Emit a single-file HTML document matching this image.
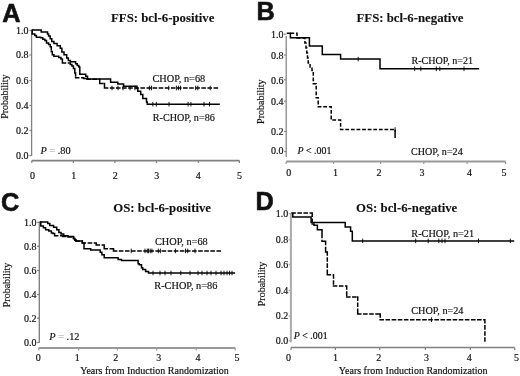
<!DOCTYPE html>
<html><head><meta charset="utf-8"><style>
html,body{margin:0;padding:0;background:#fff;}
svg{display:block;filter:blur(0.3px);}
</style></head><body>
<svg width="520" height="376" viewBox="0 0 520 376">
<rect width="520" height="376" fill="#fff"/>
<text x="2.2" y="22" font-size="25.3" text-anchor="start" font-weight="bold" font-family='"Liberation Sans", sans-serif' fill="#111" stroke="#111" stroke-width="0.6" >A</text>
<text x="111" y="22.2" font-size="12.8" text-anchor="start" font-weight="bold" font-family='"Liberation Serif", serif' fill="#111" stroke="#111" stroke-width="0.1" >FFS: bcl-6-positive</text>
<line x1="31.6" y1="30.5" x2="31.6" y2="155.8" stroke="#808080" stroke-width="1.3"/>
<line x1="29.400000000000002" y1="30.5" x2="31.6" y2="30.5" stroke="#808080" stroke-width="1.2"/>
<text x="28.5" y="33.8" font-size="10" text-anchor="end" font-weight="normal" font-family='"Liberation Serif", serif' fill="#111" stroke="#111" stroke-width="0.18" >1.0</text>
<line x1="29.400000000000002" y1="55" x2="31.6" y2="55" stroke="#808080" stroke-width="1.2"/>
<text x="28.5" y="58.3" font-size="10" text-anchor="end" font-weight="normal" font-family='"Liberation Serif", serif' fill="#111" stroke="#111" stroke-width="0.18" >0.8</text>
<line x1="29.400000000000002" y1="80.5" x2="31.6" y2="80.5" stroke="#808080" stroke-width="1.2"/>
<text x="28.5" y="83.8" font-size="10" text-anchor="end" font-weight="normal" font-family='"Liberation Serif", serif' fill="#111" stroke="#111" stroke-width="0.18" >0.6</text>
<line x1="29.400000000000002" y1="105.5" x2="31.6" y2="105.5" stroke="#808080" stroke-width="1.2"/>
<text x="28.5" y="108.8" font-size="10" text-anchor="end" font-weight="normal" font-family='"Liberation Serif", serif' fill="#111" stroke="#111" stroke-width="0.18" >0.4</text>
<line x1="29.400000000000002" y1="130.5" x2="31.6" y2="130.5" stroke="#808080" stroke-width="1.2"/>
<text x="28.5" y="133.8" font-size="10" text-anchor="end" font-weight="normal" font-family='"Liberation Serif", serif' fill="#111" stroke="#111" stroke-width="0.18" >0.2</text>
<line x1="29.400000000000002" y1="155.5" x2="31.6" y2="155.5" stroke="#808080" stroke-width="1.2"/>
<text x="28.5" y="158.8" font-size="10" text-anchor="end" font-weight="normal" font-family='"Liberation Serif", serif' fill="#111" stroke="#111" stroke-width="0.18" >0.0</text>
<line x1="31.8" y1="160.6" x2="239.4" y2="160.6" stroke="#808080" stroke-width="1.6"/>
<line x1="31.8" y1="160.6" x2="31.8" y2="163.1" stroke="#808080" stroke-width="1.2"/>
<text x="32.4" y="179.3" font-size="10" text-anchor="middle" font-weight="normal" font-family='"Liberation Serif", serif' fill="#111" stroke="#111" stroke-width="0.18" >0</text>
<line x1="73.3" y1="160.6" x2="73.3" y2="163.1" stroke="#808080" stroke-width="1.2"/>
<text x="73.7" y="179.3" font-size="10" text-anchor="middle" font-weight="normal" font-family='"Liberation Serif", serif' fill="#111" stroke="#111" stroke-width="0.18" >1</text>
<line x1="114.8" y1="160.6" x2="114.8" y2="163.1" stroke="#808080" stroke-width="1.2"/>
<text x="115.2" y="179.3" font-size="10" text-anchor="middle" font-weight="normal" font-family='"Liberation Serif", serif' fill="#111" stroke="#111" stroke-width="0.18" >2</text>
<line x1="156.5" y1="160.6" x2="156.5" y2="163.1" stroke="#808080" stroke-width="1.2"/>
<text x="156.7" y="179.3" font-size="10" text-anchor="middle" font-weight="normal" font-family='"Liberation Serif", serif' fill="#111" stroke="#111" stroke-width="0.18" >3</text>
<line x1="198.3" y1="160.6" x2="198.3" y2="163.1" stroke="#808080" stroke-width="1.2"/>
<text x="198.3" y="179.3" font-size="10" text-anchor="middle" font-weight="normal" font-family='"Liberation Serif", serif' fill="#111" stroke="#111" stroke-width="0.18" >4</text>
<line x1="239.4" y1="160.6" x2="239.4" y2="163.1" stroke="#808080" stroke-width="1.2"/>
<text x="239.4" y="179.3" font-size="10" text-anchor="middle" font-weight="normal" font-family='"Liberation Serif", serif' fill="#111" stroke="#111" stroke-width="0.18" >5</text>
<text x="0" y="0" font-size="10" text-anchor="middle" font-weight="normal" font-family='"Liberation Serif", serif' fill="#111" stroke="#111" stroke-width="0.18" transform="translate(7.8,96.6) rotate(-90)">Probability</text>
<text x="40.5" y="154.3" font-size="10.3" text-anchor="start" font-weight="normal" font-family='"Liberation Serif", serif' fill="#111" stroke="#111" stroke-width="0.18" ><tspan font-style="italic">P</tspan> <tspan fill="#999" stroke="#999">=</tspan> .80</text>
<text x="152.5" y="81.8" font-size="10.3" text-anchor="start" font-weight="normal" font-family='"Liberation Serif", serif' fill="#111" stroke="#111" stroke-width="0.18" >CHOP, n=68</text>
<text x="152.8" y="120.5" font-size="10.15" text-anchor="start" font-weight="normal" font-family='"Liberation Serif", serif' fill="#111" stroke="#111" stroke-width="0.18" >R-CHOP, n=86</text>
<path d="M32.1 29.9 H41.2 V31.9 H47.5 V34 H48.6 V36.1 H50.2 V38.8 H51.8 V41.4 H53.9 V43.6 H57.1 V45.7 H60.3 V48.3 H61.9 V52.1 H64 V54.7 H66.7 V57.9 H68.3 V60.6 H70.3 V61.7 H75.6 V63.8 H77.2 V65.5 H78.8 V67 H79.8 V74.2 H85.7 V76.2 H87.5 V79.1 H110.6 V82.2 H117.8 V84 H123.6 V86.2 H137 V88.6 H137.8 V91.3 H140.7 V94.5 H142.8 V98.4 H146.5 V101.9 H147.3 V104.2 H219.8" fill="none" stroke="#000" stroke-width="1.5"/>
<line x1="152.8" y1="101.9" x2="152.8" y2="106.5" stroke="#000" stroke-width="0.9"/>
<line x1="156.3" y1="101.9" x2="156.3" y2="106.5" stroke="#000" stroke-width="0.9"/>
<line x1="169" y1="101.9" x2="169" y2="106.5" stroke="#000" stroke-width="0.9"/>
<line x1="188.1" y1="101.9" x2="188.1" y2="106.5" stroke="#000" stroke-width="0.9"/>
<line x1="190.9" y1="101.9" x2="190.9" y2="106.5" stroke="#000" stroke-width="0.9"/>
<line x1="204" y1="101.9" x2="204" y2="106.5" stroke="#000" stroke-width="0.9"/>
<line x1="209.5" y1="101.9" x2="209.5" y2="106.5" stroke="#000" stroke-width="0.9"/>
<path d="M32.2 30.0V34.0M32.2 34.0H34.8M34.8 34.0V35.6M34.8 35.6H36.4M36.4 35.6V37.2M36.4 37.2H40.6M40.6 37.2V37.7M40.6 37.7H42.8M42.8 37.7V39.3M42.8 39.3H44.9M44.9 39.3V40.4M44.9 40.4H46.5M46.5 40.4V43.0M46.5 43.0H48.6M48.6 43.0V44.6M48.6 44.6H50.2M50.2 44.6V46.7M50.2 46.7H51.3M51.3 46.7V51.5M51.3 51.5H52.3M52.3 51.5V54.7M52.3 54.7H53.9M53.9 54.7V56.3M53.9 56.3H58.7M58.7 56.3V57.5M58.7 57.5H60.9M60.9 57.5V59.0M60.9 59.0H62.4M62.4 59.0V63.0M62.4 63.0H70.3M70.3 63.0V64.5M70.3 64.5H71.9M71.9 64.5V66.0M71.9 66.0H73.4M73.4 66.0V68.6M73.4 68.6H74.8M74.8 68.6V72.9M74.8 72.9H75.6M75.6 72.9V77.7M75.6 77.7H83.6M83.6 77.7V78.5M83.6 78.5H87.0M87.0 78.5V79.2M87.0 79.2H99.7M99.7 79.2V83.5M99.7 83.5H104.5M104.5 83.5V88.0M104.5 88.0H219.5" fill="none" stroke="#000" stroke-width="1.5" stroke-linecap="square" stroke-dasharray="3.1 3.0"/>
<line x1="112" y1="85.7" x2="112" y2="90.3" stroke="#000" stroke-width="0.9"/>
<line x1="118" y1="85.7" x2="118" y2="90.3" stroke="#000" stroke-width="0.9"/>
<line x1="123" y1="85.7" x2="123" y2="90.3" stroke="#000" stroke-width="0.9"/>
<line x1="130" y1="85.7" x2="130" y2="90.3" stroke="#000" stroke-width="0.9"/>
<line x1="135" y1="85.7" x2="135" y2="90.3" stroke="#000" stroke-width="0.9"/>
<line x1="149.4" y1="85.7" x2="149.4" y2="90.3" stroke="#000" stroke-width="0.9"/>
<line x1="151.5" y1="85.7" x2="151.5" y2="90.3" stroke="#000" stroke-width="0.9"/>
<line x1="168.7" y1="85.7" x2="168.7" y2="90.3" stroke="#000" stroke-width="0.9"/>
<line x1="176.4" y1="85.7" x2="176.4" y2="90.3" stroke="#000" stroke-width="0.9"/>
<line x1="178.4" y1="85.7" x2="178.4" y2="90.3" stroke="#000" stroke-width="0.9"/>
<line x1="180.5" y1="85.7" x2="180.5" y2="90.3" stroke="#000" stroke-width="0.9"/>
<line x1="195.7" y1="85.7" x2="195.7" y2="90.3" stroke="#000" stroke-width="0.9"/>
<line x1="197.8" y1="85.7" x2="197.8" y2="90.3" stroke="#000" stroke-width="0.9"/>
<line x1="210.2" y1="85.7" x2="210.2" y2="90.3" stroke="#000" stroke-width="0.9"/>
<text x="256.5" y="20.3" font-size="25.3" text-anchor="start" font-weight="bold" font-family='"Liberation Sans", sans-serif' fill="#111" stroke="#111" stroke-width="0.6" >B</text>
<text x="356.5" y="22.3" font-size="12.8" text-anchor="start" font-weight="bold" font-family='"Liberation Serif", serif' fill="#111" stroke="#111" stroke-width="0.1" >FFS: bcl-6-negative</text>
<line x1="286.2" y1="36" x2="286.2" y2="157" stroke="#888" stroke-width="1.3"/>
<line x1="284.0" y1="34.2" x2="286.2" y2="34.2" stroke="#888" stroke-width="1.2"/>
<text x="283.5" y="38.15" font-size="10" text-anchor="end" font-weight="normal" font-family='"Liberation Serif", serif' fill="#111" stroke="#111" stroke-width="0.18" >1.0</text>
<line x1="284.0" y1="55" x2="286.2" y2="55" stroke="#888" stroke-width="1.2"/>
<text x="283.5" y="58.599999999999994" font-size="10" text-anchor="end" font-weight="normal" font-family='"Liberation Serif", serif' fill="#111" stroke="#111" stroke-width="0.18" >0.8</text>
<line x1="284.0" y1="79.8" x2="286.2" y2="79.8" stroke="#888" stroke-width="1.2"/>
<text x="283.5" y="83.89999999999999" font-size="10" text-anchor="end" font-weight="normal" font-family='"Liberation Serif", serif' fill="#111" stroke="#111" stroke-width="0.18" >0.6</text>
<line x1="284.0" y1="101.2" x2="286.2" y2="101.2" stroke="#888" stroke-width="1.2"/>
<text x="283.5" y="105.3" font-size="10" text-anchor="end" font-weight="normal" font-family='"Liberation Serif", serif' fill="#111" stroke="#111" stroke-width="0.18" >0.4</text>
<line x1="284.0" y1="131.5" x2="286.2" y2="131.5" stroke="#888" stroke-width="1.2"/>
<text x="283.5" y="134.60000000000002" font-size="10" text-anchor="end" font-weight="normal" font-family='"Liberation Serif", serif' fill="#111" stroke="#111" stroke-width="0.18" >0.2</text>
<line x1="284.0" y1="151.5" x2="286.2" y2="151.5" stroke="#888" stroke-width="1.2"/>
<text x="283.5" y="153.8" font-size="10" text-anchor="end" font-weight="normal" font-family='"Liberation Serif", serif' fill="#111" stroke="#111" stroke-width="0.18" >0.0</text>
<line x1="286.2" y1="161.5" x2="505.6" y2="161.5" stroke="#999" stroke-width="1.9"/>
<line x1="286.2" y1="161.5" x2="286.2" y2="164.0" stroke="#999" stroke-width="1.2"/>
<text x="288.8" y="176" font-size="10" text-anchor="middle" font-weight="normal" font-family='"Liberation Serif", serif' fill="#111" stroke="#111" stroke-width="0.18" >0</text>
<line x1="333.5" y1="161.5" x2="333.5" y2="164.0" stroke="#999" stroke-width="1.2"/>
<text x="335.4" y="176" font-size="10" text-anchor="middle" font-weight="normal" font-family='"Liberation Serif", serif' fill="#111" stroke="#111" stroke-width="0.18" >1</text>
<line x1="380.6" y1="161.5" x2="380.6" y2="164.0" stroke="#999" stroke-width="1.2"/>
<text x="379" y="176" font-size="10" text-anchor="middle" font-weight="normal" font-family='"Liberation Serif", serif' fill="#111" stroke="#111" stroke-width="0.18" >2</text>
<line x1="423.8" y1="161.5" x2="423.8" y2="164.0" stroke="#999" stroke-width="1.2"/>
<text x="422" y="176" font-size="10" text-anchor="middle" font-weight="normal" font-family='"Liberation Serif", serif' fill="#111" stroke="#111" stroke-width="0.18" >3</text>
<line x1="467.1" y1="161.5" x2="467.1" y2="164.0" stroke="#999" stroke-width="1.2"/>
<text x="469.6" y="176" font-size="10" text-anchor="middle" font-weight="normal" font-family='"Liberation Serif", serif' fill="#111" stroke="#111" stroke-width="0.18" >4</text>
<line x1="505.6" y1="161.5" x2="505.6" y2="164.0" stroke="#999" stroke-width="1.2"/>
<text x="503.9" y="176" font-size="10" text-anchor="middle" font-weight="normal" font-family='"Liberation Serif", serif' fill="#111" stroke="#111" stroke-width="0.18" >5</text>
<text x="0" y="0" font-size="10" text-anchor="middle" font-weight="normal" font-family='"Liberation Serif", serif' fill="#111" stroke="#111" stroke-width="0.18" transform="translate(264.4,101.7) rotate(-90)">Probability</text>
<text x="297.5" y="153.89999999999998" font-size="9.9" text-anchor="start" font-weight="normal" font-family='"Liberation Serif", serif' fill="#111" stroke="#111" stroke-width="0.18" ><tspan font-style="italic">P</tspan> &lt; .001</text>
<text x="411.5" y="64.2" font-size="10.05" text-anchor="start" font-weight="normal" font-family='"Liberation Serif", serif' fill="#111" stroke="#111" stroke-width="0.18" >R-CHOP, n=21</text>
<text x="411" y="154.7" font-size="10.1" text-anchor="start" font-weight="normal" font-family='"Liberation Serif", serif' fill="#111" stroke="#111" stroke-width="0.18" >CHOP, n=24</text>
<path d="M286.7 33.2 H290.4 V37.8 H309.4 V46 H322.3 V54.4 H340.6 V59.1 H380 V68.8 H479.2" fill="none" stroke="#000" stroke-width="1.5"/>
<line x1="358.2" y1="56.800000000000004" x2="358.2" y2="61.4" stroke="#000" stroke-width="0.9"/>
<line x1="414.7" y1="66.5" x2="414.7" y2="71.1" stroke="#000" stroke-width="0.9"/>
<line x1="420.8" y1="66.5" x2="420.8" y2="71.1" stroke="#000" stroke-width="0.9"/>
<line x1="436.3" y1="66.5" x2="436.3" y2="71.1" stroke="#000" stroke-width="0.9"/>
<line x1="439.8" y1="66.5" x2="439.8" y2="71.1" stroke="#000" stroke-width="0.9"/>
<line x1="464" y1="66.5" x2="464" y2="71.1" stroke="#000" stroke-width="0.9"/>
<path d="M290.4 33.2 H297 V38 H304.9 V43 H306 V48 H306.8 V53 H307.5 V58 H308.2 V63 H310.1 V67 H312 V70.5 H313.3 V74.8 H313.3 V83.8 H316.2 V97.7 H318.2 V106.7 H331.2 V120.1 H340.6 V129.5 H395.1" fill="none" stroke="#000" stroke-width="1.5" stroke-dasharray="3.8 1.8"/>
<path d="M395.1 129.5V138.1" fill="none" stroke="#000" stroke-width="1.5"/>
<line x1="395.1" y1="127.2" x2="395.1" y2="131.8" stroke="#000" stroke-width="0.9"/>
<text x="1.0" y="211" font-size="25.3" text-anchor="start" font-weight="bold" font-family='"Liberation Sans", sans-serif' fill="#111" stroke="#111" stroke-width="0.6" >C</text>
<text x="113.3" y="211.9" font-size="12.8" text-anchor="start" font-weight="bold" font-family='"Liberation Serif", serif' fill="#111" stroke="#111" stroke-width="0.1" >OS: bcl-6-positive</text>
<line x1="39.3" y1="222.3" x2="39.3" y2="342.8" stroke="#7a7a7a" stroke-width="1.3"/>
<line x1="37.099999999999994" y1="222.3" x2="39.3" y2="222.3" stroke="#7a7a7a" stroke-width="1.2"/>
<text x="36.5" y="226.20000000000002" font-size="10" text-anchor="end" font-weight="normal" font-family='"Liberation Serif", serif' fill="#111" stroke="#111" stroke-width="0.18" >1.0</text>
<line x1="37.099999999999994" y1="246.3" x2="39.3" y2="246.3" stroke="#7a7a7a" stroke-width="1.2"/>
<text x="36.5" y="250.20000000000002" font-size="10" text-anchor="end" font-weight="normal" font-family='"Liberation Serif", serif' fill="#111" stroke="#111" stroke-width="0.18" >0.8</text>
<line x1="37.099999999999994" y1="270.5" x2="39.3" y2="270.5" stroke="#7a7a7a" stroke-width="1.2"/>
<text x="36.5" y="274.40000000000003" font-size="10" text-anchor="end" font-weight="normal" font-family='"Liberation Serif", serif' fill="#111" stroke="#111" stroke-width="0.18" >0.6</text>
<line x1="37.099999999999994" y1="294.5" x2="39.3" y2="294.5" stroke="#7a7a7a" stroke-width="1.2"/>
<text x="36.5" y="298.40000000000003" font-size="10" text-anchor="end" font-weight="normal" font-family='"Liberation Serif", serif' fill="#111" stroke="#111" stroke-width="0.18" >0.4</text>
<line x1="37.099999999999994" y1="318.2" x2="39.3" y2="318.2" stroke="#7a7a7a" stroke-width="1.2"/>
<text x="36.5" y="322.1" font-size="10" text-anchor="end" font-weight="normal" font-family='"Liberation Serif", serif' fill="#111" stroke="#111" stroke-width="0.18" >0.2</text>
<line x1="37.099999999999994" y1="342.5" x2="39.3" y2="342.5" stroke="#7a7a7a" stroke-width="1.2"/>
<text x="36.5" y="346.40000000000003" font-size="10" text-anchor="end" font-weight="normal" font-family='"Liberation Serif", serif' fill="#111" stroke="#111" stroke-width="0.18" >0.0</text>
<line x1="38.7" y1="348" x2="235.2" y2="348" stroke="#999" stroke-width="1.9"/>
<line x1="38.7" y1="348" x2="38.7" y2="350.5" stroke="#999" stroke-width="1.2"/>
<text x="38.3" y="361" font-size="10" text-anchor="middle" font-weight="normal" font-family='"Liberation Serif", serif' fill="#111" stroke="#111" stroke-width="0.18" >0</text>
<line x1="78.7" y1="348" x2="78.7" y2="350.5" stroke="#999" stroke-width="1.2"/>
<text x="77.3" y="361" font-size="10" text-anchor="middle" font-weight="normal" font-family='"Liberation Serif", serif' fill="#111" stroke="#111" stroke-width="0.18" >1</text>
<line x1="117.3" y1="348" x2="117.3" y2="350.5" stroke="#999" stroke-width="1.2"/>
<text x="115.8" y="361" font-size="10" text-anchor="middle" font-weight="normal" font-family='"Liberation Serif", serif' fill="#111" stroke="#111" stroke-width="0.18" >2</text>
<line x1="156.7" y1="348" x2="156.7" y2="350.5" stroke="#999" stroke-width="1.2"/>
<text x="158.7" y="361" font-size="10" text-anchor="middle" font-weight="normal" font-family='"Liberation Serif", serif' fill="#111" stroke="#111" stroke-width="0.18" >3</text>
<line x1="196.2" y1="348" x2="196.2" y2="350.5" stroke="#999" stroke-width="1.2"/>
<text x="198" y="361" font-size="10" text-anchor="middle" font-weight="normal" font-family='"Liberation Serif", serif' fill="#111" stroke="#111" stroke-width="0.18" >4</text>
<line x1="235.2" y1="348" x2="235.2" y2="350.5" stroke="#999" stroke-width="1.2"/>
<text x="237" y="361" font-size="10" text-anchor="middle" font-weight="normal" font-family='"Liberation Serif", serif' fill="#111" stroke="#111" stroke-width="0.18" >5</text>
<text x="0" y="0" font-size="10" text-anchor="middle" font-weight="normal" font-family='"Liberation Serif", serif' fill="#111" stroke="#111" stroke-width="0.18" transform="translate(9.8,285) rotate(-90)">Probability</text>
<text x="80.2" y="373.6" font-size="10" text-anchor="start" font-weight="normal" font-family='"Liberation Serif", serif' fill="#111" stroke="#111" stroke-width="0.18" >Years from Induction Randomization</text>
<text x="49.3" y="339.7" font-size="10.3" text-anchor="start" font-weight="normal" font-family='"Liberation Serif", serif' fill="#111" stroke="#111" stroke-width="0.18" ><tspan font-style="italic">P</tspan> <tspan fill="#999" stroke="#999">=</tspan> .12</text>
<text x="155" y="245.2" font-size="10.3" text-anchor="start" font-weight="normal" font-family='"Liberation Serif", serif' fill="#111" stroke="#111" stroke-width="0.18" >CHOP, n=68</text>
<text x="154.3" y="288.5" font-size="10.3" text-anchor="start" font-weight="normal" font-family='"Liberation Serif", serif' fill="#111" stroke="#111" stroke-width="0.18" >R-CHOP, n=86</text>
<path d="M40.3 221.9 H47.7 V223.4 H49.8 V225.6 H53.6 V227.2 H56.7 V229.8 H58.9 V232.5 H61 V234.1 H63.7 V235.7 H68 V236.5 H73.5 V238.5 H74.7 V240 H76 V241 H82.3 V243 H84 V248.7 H90.7 V249.9 H100.2 V252.2 H101.9 V254.8 H104.2 V257.8 H118.1 V259.4 H121.5 V260.5 H138.1 V263.7 H139.2 V264.8 H141.5 V267.7 H142.7 V269.4 H145.6 V271.5 H148.5 V273 H235.1" fill="none" stroke="#000" stroke-width="1.5"/>
<line x1="153" y1="270.7" x2="153" y2="275.3" stroke="#000" stroke-width="0.9"/>
<line x1="160" y1="270.7" x2="160" y2="275.3" stroke="#000" stroke-width="0.9"/>
<line x1="165" y1="270.7" x2="165" y2="275.3" stroke="#000" stroke-width="0.9"/>
<line x1="171" y1="270.7" x2="171" y2="275.3" stroke="#000" stroke-width="0.9"/>
<line x1="180.8" y1="270.7" x2="180.8" y2="275.3" stroke="#000" stroke-width="0.9"/>
<line x1="190" y1="270.7" x2="190" y2="275.3" stroke="#000" stroke-width="0.9"/>
<line x1="198" y1="270.7" x2="198" y2="275.3" stroke="#000" stroke-width="0.9"/>
<line x1="202" y1="270.7" x2="202" y2="275.3" stroke="#000" stroke-width="0.9"/>
<line x1="207" y1="270.7" x2="207" y2="275.3" stroke="#000" stroke-width="0.9"/>
<line x1="211" y1="270.7" x2="211" y2="275.3" stroke="#000" stroke-width="0.9"/>
<line x1="216" y1="270.7" x2="216" y2="275.3" stroke="#000" stroke-width="0.9"/>
<line x1="221" y1="270.7" x2="221" y2="275.3" stroke="#000" stroke-width="0.9"/>
<line x1="224" y1="270.7" x2="224" y2="275.3" stroke="#000" stroke-width="0.9"/>
<line x1="227" y1="270.7" x2="227" y2="275.3" stroke="#000" stroke-width="0.9"/>
<line x1="229.6" y1="270.7" x2="229.6" y2="275.3" stroke="#000" stroke-width="0.9"/>
<line x1="232" y1="270.7" x2="232" y2="275.3" stroke="#000" stroke-width="0.9"/>
<path d="M40.3 222.0H40.8M40.8 222.0V226.1M40.8 226.1H43.4M43.4 226.1V227.7M43.4 227.7H45.6M45.6 227.7V229.8M45.6 229.8H48.8M48.8 229.8V230.9M48.8 230.9H51.4M51.4 230.9V233.0M51.4 233.0H53.0M53.0 233.0V233.6M53.0 233.6H54.6M54.6 233.6V235.7M54.6 235.7H62.6M62.6 235.7V236.5M62.6 236.5H68.0M68.0 236.5V236.9M68.0 236.9H73.5M73.5 236.9V238.5M73.5 238.5H74.7M74.7 238.5V240.0M74.7 240.0H76.0M76.0 240.0V241.0M76.0 241.0H82.3M82.3 241.0V243.0M82.3 243.0H96.2M96.2 243.0V245.1M96.2 245.1H104.2M104.2 245.1V248.8M104.2 248.8H113.5M113.5 248.8V250.9M113.5 250.9H221.8" fill="none" stroke="#000" stroke-width="1.5" stroke-linecap="square" stroke-dasharray="3.1 3.0"/>
<line x1="131.2" y1="248.6" x2="131.2" y2="253.20000000000002" stroke="#000" stroke-width="0.9"/>
<line x1="145" y1="248.6" x2="145" y2="253.20000000000002" stroke="#000" stroke-width="0.9"/>
<line x1="147.3" y1="248.6" x2="147.3" y2="253.20000000000002" stroke="#000" stroke-width="0.9"/>
<line x1="148.5" y1="248.6" x2="148.5" y2="253.20000000000002" stroke="#000" stroke-width="0.9"/>
<line x1="150.2" y1="248.6" x2="150.2" y2="253.20000000000002" stroke="#000" stroke-width="0.9"/>
<line x1="151.9" y1="248.6" x2="151.9" y2="253.20000000000002" stroke="#000" stroke-width="0.9"/>
<line x1="158.3" y1="248.6" x2="158.3" y2="253.20000000000002" stroke="#000" stroke-width="0.9"/>
<line x1="160.4" y1="248.6" x2="160.4" y2="253.20000000000002" stroke="#000" stroke-width="0.9"/>
<line x1="175.4" y1="248.6" x2="175.4" y2="253.20000000000002" stroke="#000" stroke-width="0.9"/>
<line x1="185.5" y1="248.6" x2="185.5" y2="253.20000000000002" stroke="#000" stroke-width="0.9"/>
<line x1="187.7" y1="248.6" x2="187.7" y2="253.20000000000002" stroke="#000" stroke-width="0.9"/>
<line x1="195" y1="248.6" x2="195" y2="253.20000000000002" stroke="#000" stroke-width="0.9"/>
<text x="255.5" y="210.3" font-size="25.3" text-anchor="start" font-weight="bold" font-family='"Liberation Sans", sans-serif' fill="#111" stroke="#111" stroke-width="0.6" >D</text>
<text x="356" y="211.8" font-size="12.8" text-anchor="start" font-weight="bold" font-family='"Liberation Serif", serif' fill="#111" stroke="#111" stroke-width="0.1" >OS: bcl-6-negative</text>
<line x1="290.9" y1="213.6" x2="290.9" y2="342.3" stroke="#aaa" stroke-width="2.0"/>
<line x1="288.7" y1="213.6" x2="290.9" y2="213.6" stroke="#aaa" stroke-width="1.2"/>
<text x="288.2" y="216.9" font-size="10" text-anchor="end" font-weight="normal" font-family='"Liberation Serif", serif' fill="#111" stroke="#111" stroke-width="0.18" >1.0</text>
<line x1="288.7" y1="239.9" x2="290.9" y2="239.9" stroke="#aaa" stroke-width="1.2"/>
<text x="288.2" y="243.20000000000002" font-size="10" text-anchor="end" font-weight="normal" font-family='"Liberation Serif", serif' fill="#111" stroke="#111" stroke-width="0.18" >0.8</text>
<line x1="288.7" y1="264.4" x2="290.9" y2="264.4" stroke="#aaa" stroke-width="1.2"/>
<text x="288.2" y="267.7" font-size="10" text-anchor="end" font-weight="normal" font-family='"Liberation Serif", serif' fill="#111" stroke="#111" stroke-width="0.18" >0.6</text>
<line x1="288.7" y1="290.5" x2="290.9" y2="290.5" stroke="#aaa" stroke-width="1.2"/>
<text x="288.2" y="293.8" font-size="10" text-anchor="end" font-weight="normal" font-family='"Liberation Serif", serif' fill="#111" stroke="#111" stroke-width="0.18" >0.4</text>
<line x1="288.7" y1="316.1" x2="290.9" y2="316.1" stroke="#aaa" stroke-width="1.2"/>
<text x="288.2" y="319.40000000000003" font-size="10" text-anchor="end" font-weight="normal" font-family='"Liberation Serif", serif' fill="#111" stroke="#111" stroke-width="0.18" >0.2</text>
<line x1="288.7" y1="340.7" x2="290.9" y2="340.7" stroke="#aaa" stroke-width="1.2"/>
<text x="288.2" y="344.0" font-size="10" text-anchor="end" font-weight="normal" font-family='"Liberation Serif", serif' fill="#111" stroke="#111" stroke-width="0.18" >0.0</text>
<line x1="291" y1="347.5" x2="514.7" y2="347.5" stroke="#808080" stroke-width="1.5"/>
<line x1="291" y1="347.5" x2="291" y2="350.0" stroke="#808080" stroke-width="1.2"/>
<text x="288.5" y="360.7" font-size="10" text-anchor="middle" font-weight="normal" font-family='"Liberation Serif", serif' fill="#111" stroke="#111" stroke-width="0.18" >0</text>
<line x1="335.4" y1="347.5" x2="335.4" y2="350.0" stroke="#808080" stroke-width="1.2"/>
<text x="335.4" y="360.7" font-size="10" text-anchor="middle" font-weight="normal" font-family='"Liberation Serif", serif' fill="#111" stroke="#111" stroke-width="0.18" >1</text>
<line x1="379.7" y1="347.5" x2="379.7" y2="350.0" stroke="#808080" stroke-width="1.2"/>
<text x="378.8" y="360.7" font-size="10" text-anchor="middle" font-weight="normal" font-family='"Liberation Serif", serif' fill="#111" stroke="#111" stroke-width="0.18" >2</text>
<line x1="425.4" y1="347.5" x2="425.4" y2="350.0" stroke="#808080" stroke-width="1.2"/>
<text x="426.5" y="360.7" font-size="10" text-anchor="middle" font-weight="normal" font-family='"Liberation Serif", serif' fill="#111" stroke="#111" stroke-width="0.18" >3</text>
<line x1="470.4" y1="347.5" x2="470.4" y2="350.0" stroke="#808080" stroke-width="1.2"/>
<text x="469.2" y="360.7" font-size="10" text-anchor="middle" font-weight="normal" font-family='"Liberation Serif", serif' fill="#111" stroke="#111" stroke-width="0.18" >4</text>
<line x1="514.7" y1="347.5" x2="514.7" y2="350.0" stroke="#808080" stroke-width="1.2"/>
<text x="516.5" y="360.7" font-size="10" text-anchor="middle" font-weight="normal" font-family='"Liberation Serif", serif' fill="#111" stroke="#111" stroke-width="0.18" >5</text>
<text x="0" y="0" font-size="10" text-anchor="middle" font-weight="normal" font-family='"Liberation Serif", serif' fill="#111" stroke="#111" stroke-width="0.18" transform="translate(265,284) rotate(-90)">Probability</text>
<text x="338.8" y="373.8" font-size="10" text-anchor="start" font-weight="normal" font-family='"Liberation Serif", serif' fill="#111" stroke="#111" stroke-width="0.18" >Years from Induction Randomization</text>
<text x="293.8" y="338.9" font-size="9.9" text-anchor="start" font-weight="normal" font-family='"Liberation Serif", serif' fill="#111" stroke="#111" stroke-width="0.18" ><tspan font-style="italic">P</tspan> &lt; .001</text>
<text x="411.3" y="237.1" font-size="10.25" text-anchor="start" font-weight="normal" font-family='"Liberation Serif", serif' fill="#111" stroke="#111" stroke-width="0.18" >R-CHOP, n=21</text>
<text x="411.3" y="314.3" font-size="10.2" text-anchor="start" font-weight="normal" font-family='"Liberation Serif", serif' fill="#111" stroke="#111" stroke-width="0.18" >CHOP, n=24</text>
<path d="M292.8 213.1 H292.8 V217.1 H311.1 V222.4 H345.2 V227.1 H350.6 V231.3 H352.3 V240.9 H514.2" fill="none" stroke="#000" stroke-width="1.5"/>
<line x1="362.7" y1="238.6" x2="362.7" y2="243.20000000000002" stroke="#000" stroke-width="0.9"/>
<line x1="415.7" y1="238.6" x2="415.7" y2="243.20000000000002" stroke="#000" stroke-width="0.9"/>
<line x1="428.2" y1="238.6" x2="428.2" y2="243.20000000000002" stroke="#000" stroke-width="0.9"/>
<line x1="438.8" y1="238.6" x2="438.8" y2="243.20000000000002" stroke="#000" stroke-width="0.9"/>
<line x1="442" y1="238.6" x2="442" y2="243.20000000000002" stroke="#000" stroke-width="0.9"/>
<line x1="445" y1="238.6" x2="445" y2="243.20000000000002" stroke="#000" stroke-width="0.9"/>
<line x1="478.5" y1="238.6" x2="478.5" y2="243.20000000000002" stroke="#000" stroke-width="0.9"/>
<line x1="510.3" y1="238.6" x2="510.3" y2="243.20000000000002" stroke="#000" stroke-width="0.9"/>
<path d="M292.0 213.1H312.2M312.2 213.1V224.0M312.2 224.0H314.0M314.0 224.0V225.2M314.0 225.2H317.4M317.4 225.2V229.8M317.4 229.8H322.0M322.0 229.8V234.4M322.0 234.4V241.3M322.0 241.3H325.6M325.6 241.3V251.9M325.6 251.9H327.3M327.3 251.9V274.8M327.3 274.8H333.5M333.5 274.8V286.0M333.5 286.0H346.7M346.7 286.0V297.1M346.7 297.1H357.7M357.7 297.1V314.0M357.7 314.0H380.2M380.2 314.0V319.7M380.2 319.7H484.9M484.9 319.7V341.5" fill="none" stroke="#000" stroke-width="1.5" stroke-linecap="square" stroke-dasharray="3.1 3.0"/>
<line x1="431.5" y1="317.4" x2="431.5" y2="322.0" stroke="#000" stroke-width="0.9"/>
</svg>
</body></html>
